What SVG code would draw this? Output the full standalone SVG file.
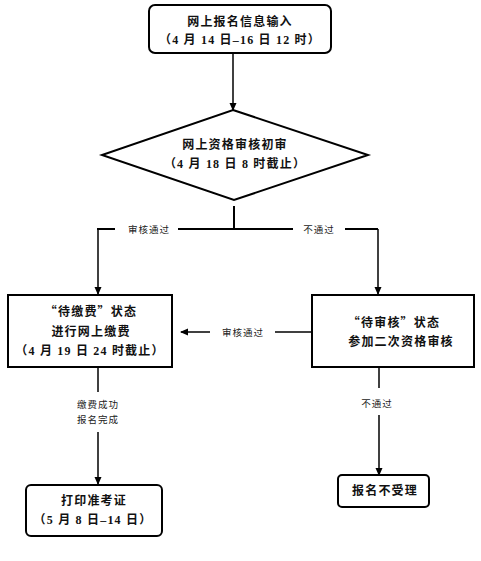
<svg xmlns="http://www.w3.org/2000/svg" width="481" height="561" viewBox="0 0 481 561">
<style>
.box{fill:#fff;stroke:#000;stroke-width:2}
.t{font-family:"Liberation Serif","Noto Sans CJK SC",serif;font-size:12px;font-weight:bold;fill:#111;text-anchor:middle;letter-spacing:1.2px}
.q{font-family:"Noto Sans CJK SC",sans-serif}
.lb{font-family:"Liberation Serif","Noto Sans CJK SC",serif;font-size:9.5px;fill:#222;text-anchor:middle;letter-spacing:1px}
.ln{fill:none;stroke:#000;stroke-width:1.5}
.ln2{fill:none;stroke:#000;stroke-width:2}
</style>
<defs>
<marker id="ah" markerWidth="8" markerHeight="8" refX="7" refY="4" orient="auto" markerUnits="userSpaceOnUse">
<path d="M0,0.5 L8,4 L0,7.5 Z" fill="#000"/>
</marker>
</defs>
<rect width="481" height="561" fill="#fff"/>
<g id="connectors">
<line class="ln" x1="233" y1="53" x2="233" y2="110" marker-end="url(#ah)"/>
<line class="ln2" x1="234" y1="206" x2="234" y2="229"/>
<line class="ln2" x1="97" y1="229" x2="115" y2="229"/>
<line class="ln2" x1="178" y1="229" x2="293" y2="229"/>
<line class="ln2" x1="345" y1="229" x2="378" y2="229"/>
<line class="ln" x1="98" y1="229" x2="98" y2="294" marker-end="url(#ah)"/>
<line class="ln" x1="378" y1="229" x2="378" y2="294" marker-end="url(#ah)"/>
<line class="ln" x1="312" y1="332" x2="275" y2="332"/>
<line class="ln" x1="210" y1="332" x2="181" y2="332" marker-end="url(#ah)"/>
<line class="ln" x1="98" y1="367" x2="98" y2="392"/>
<line class="ln" x1="98" y1="432" x2="98" y2="484" marker-end="url(#ah)"/>
<line class="ln" x1="379" y1="367" x2="379" y2="388"/>
<line class="ln" x1="379" y1="415" x2="379" y2="475" marker-end="url(#ah)"/>
<text class="lb" x="149" y="233">审核通过</text>
<text class="lb" x="319" y="233">不通过</text>
<text class="lb" x="243" y="336">审核通过</text>
<text class="lb" x="98" y="408">缴费成功</text>
<text class="lb" x="98" y="423">报名完成</text>
<text class="lb" x="377" y="407">不通过</text>
</g>
<g id="n1">
<rect class="box" x="149" y="5" width="182" height="48" rx="6"/>
<text class="t" x="240" y="26">网上报名信息输入</text>
<text class="t" x="240" y="44">（4 月 14 日–16 日 12 时）</text>
</g>
<g id="n2">
<polygon class="box" points="233,110 368,155 234,200 102,155" stroke-width="1.6"/>
<text class="t" x="235" y="149">网上资格审核初审</text>
<text class="t" x="235" y="168">（4 月 18 日 8 时截止）</text>
</g>
<g id="n3">
<rect class="box" x="8" y="295" width="164" height="72" stroke-width="2.5"/>
<text class="t" x="91" y="316"><tspan class="q">“</tspan>待缴费<tspan class="q">”</tspan>状态</text>
<text class="t" x="91" y="336">进行网上缴费</text>
<text class="t" x="90" y="355">（4 月 19 日 24 时截止）</text>
</g>
<g id="n4">
<rect class="box" x="312" y="295" width="162" height="72" stroke-width="2.5"/>
<text class="t" x="394" y="327"><tspan class="q">“</tspan>待审核<tspan class="q">”</tspan>状态</text>
<text class="t" x="401" y="346">参加二次资格审核</text>
</g>
<g id="n5">
<rect class="box" x="26" y="485" width="136" height="51" rx="5"/>
<text class="t" x="94" y="505">打印准考证</text>
<text class="t" x="93" y="524">（5 月 8 日–14 日）</text>
</g>
<g id="n6">
<rect class="box" x="338" y="475" width="91" height="32" rx="4"/>
<text class="t" x="385" y="495">报名不受理</text>
</g>
</svg>
